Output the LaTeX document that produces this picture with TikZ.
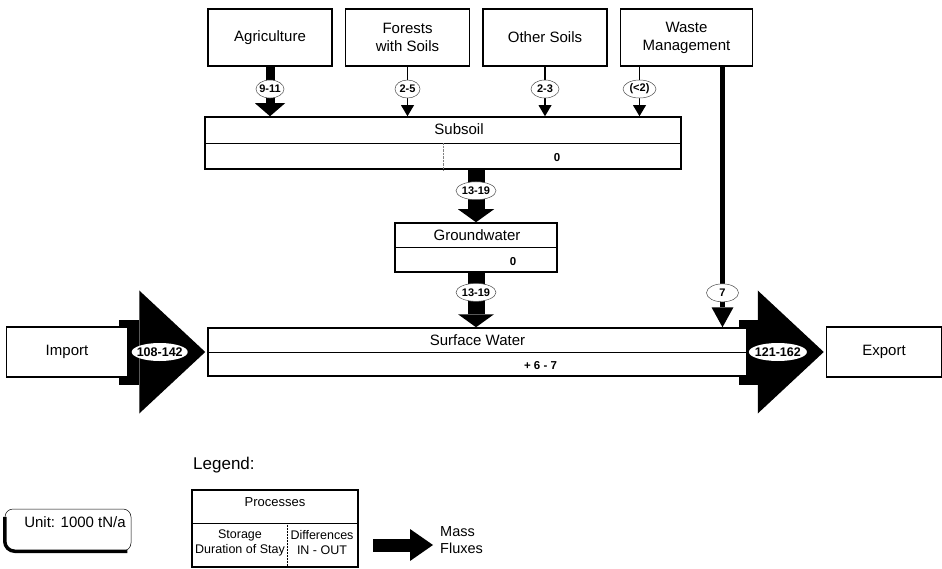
\documentclass[tikz,border=0pt]{standalone}
\usepackage{fontspec}
\setmainfont{Liberation Sans}
\usetikzlibrary{arrows.meta,positioning,calc,shapes.geometric,backgrounds}

\begin{document}
\begin{tikzpicture}[
 x=1pt,y=-1pt,
 proc/.style={draw,fill=white,line width=1.5pt,minimum width=124pt,minimum height=57pt,align=center,inner sep=2pt,font=\fontsize{15}{18}\selectfont},
 store/.style={draw,fill=white,line width=1.5pt,inner sep=0pt},
 boxtxt/.style={inner sep=0pt,font=\fontsize{15}{18}\selectfont},
 baltxt/.style={inner sep=0pt,font=\bfseries\fontsize{11.5}{13}\selectfont},
 flab/.style={ellipse,draw=black!70,line width=0.5pt,fill=white,inner xsep=-12pt,inner ysep=0pt,minimum width=28pt,minimum height=18pt,font=\bfseries\fontsize{11}{12}\selectfont},
 biglab/.style={flab,draw=none,minimum height=18pt,font=\bfseries\fontsize{12.5}{13}\selectfont},
 thinflux/.style={line width=1.5pt,-{Triangle[length=11pt,width=13pt,line width=0pt]}},
 agflux/.style={line width=9pt,-{Triangle[length=13pt,width=30pt,line width=0pt]}},
 gwflux/.style={line width=17pt,-{Triangle[length=13pt,width=36pt,line width=0pt]}},
 wasteflux/.style={line width=5pt,-{Triangle[length=20pt,width=22pt,line width=0pt]}},
 bigflux/.style={line width=65pt,-{Triangle[length=66pt,width=123pt,line width=0pt]}}
]
\useasboundingbox (0,0) rectangle (942,569);

% sources on top
\node[proc] (agri) at (270,37.5) {Agriculture};
\node[proc,right=12pt of agri] (forest) {Forests\\with Soils};
\node[proc,right=12pt of forest] (othsoil) {Other Soils};
\node[proc,right=12pt of othsoil,minimum width=132pt] (waste) {Waste\\Management};

% subsoil
\node[store,minimum width=476pt,minimum height=52pt] (subsoil) at (443,143) {};
\draw[line width=0.8pt] (subsoil.west) -- (subsoil.east);
\draw[densely dotted,black!50,line width=0.4pt] (subsoil.center) -- (subsoil.south);
\node[boxtxt] (subsoil-t) at ($(subsoil.north)+(16,13)$) {Subsoil};
\node[baltxt] (subsoil-b) at ($(subsoil.south)+(114,-12)$) {0};

% groundwater
\node[store,minimum width=162pt,minimum height=49pt] (ground) at (476,247.5) {};
\draw[line width=0.8pt] (ground.west) -- (ground.east);
\node[boxtxt] (ground-t) at ($(ground.north)+(1,13)$) {Groundwater};
\node[baltxt] (ground-b) at ($(ground.south)+(37,-11)$) {0};

% surface water, import, export
\node[store,minimum width=539pt,minimum height=48pt] (surface) at (477.5,352) {};
\draw[line width=0.8pt] (surface.west) -- (surface.east);
\node[boxtxt] (surface-t) at ($(surface.north)+(0,13)$) {Surface Water};
\node[baltxt] (surface-b) at ($(surface.south)+(63,-11)$) {+ 6 - 7};
\node[proc,minimum width=121pt,minimum height=50pt,left=79pt of surface] (import) {Import};
\node[proc,minimum width=115pt,minimum height=50pt,right=78pt of surface] (export) {Export};

\begin{pgfonlayer}{background}
\draw[bigflux,shorten >=2pt] ($(import.east)+(-9,0)$) -- node[biglab,pos=0.46,minimum width=56pt] (import-f) {108-142} (surface.west);
\draw[bigflux,shorten >=2pt] ($(surface.east)+(-9,0)$) -- node[biglab,pos=0.45,minimum width=58pt] (export-f) {121-162} (export.west);
\end{pgfonlayer}

% fluxes into subsoil
\draw[agflux] (agri.south) -- node[flab,pos=0.45] (agri-f) {9-11} (agri.south |- subsoil.north);
\draw[thinflux] (forest.south) -- node[flab,pos=0.45,minimum width=25pt] (forest-f) {2-5} (forest.south |- subsoil.north);
\draw[thinflux] (othsoil.south) -- node[flab,pos=0.45] (othsoil-f) {2-3} (othsoil.south |- subsoil.north);
\coordinate (waste-l) at ($(waste.south)+(-47,0)$);
\coordinate (waste-r) at ($(waste.south)+(36,0)$);
\draw[thinflux] (waste-l) -- node[flab,pos=0.45,minimum width=33pt] (waste-f) {(<2)} (waste-l |- subsoil.north);
\draw[wasteflux] (waste-r) -- node[flab,pos=0.868,minimum width=32pt] (waste-s) {7} (waste-r |- surface.north);

% leaching
\draw[gwflux] (ground.north |- subsoil.south) -- node[flab,pos=0.4,minimum width=40pt] (subsoil-f) {13-19} (ground.north);
\draw[gwflux] (ground.south) -- node[flab,pos=0.36,minimum width=40pt] (ground-f) {13-19} (ground.south |- surface.north);

% legend
\node[anchor=west,inner sep=0pt,font=\fontsize{17}{20}\selectfont] (legend) at (193,465) {Legend:};
\node[store,line width=1.2pt,minimum width=166pt,minimum height=77pt] (leg-proc) at (275,528.5) {};
\coordinate (leg-dl) at ($(leg-proc.north west)!0.43!(leg-proc.south west)$);
\coordinate (leg-dr) at ($(leg-proc.north east)!0.43!(leg-proc.south east)$);
\coordinate (leg-dm) at ($(leg-dl)!0.572!(leg-dr)$);
\draw[line width=0.6pt] (leg-dl) -- (leg-dr);
\draw[densely dotted,line width=0.5pt] (leg-dm) -- (leg-dm |- leg-proc.south);
\node[inner sep=0pt,font=\fontsize{13}{15}\selectfont] (leg-pt) at ($(leg-proc.north)+(0,13)$) {Processes};
\node[inner sep=0pt,align=center,font=\fontsize{12.5}{15}\selectfont] (leg-st) at (240,543) {Storage\\Duration of Stay};
\node[inner sep=0pt,align=center,font=\fontsize{12.5}{15}\selectfont] (leg-df) at (322,543) {Differences\\IN - OUT};
\coordinate (leg-a) at (373,545);
\coordinate (leg-b) at (433,545);
\draw[line width=13pt,-{Triangle[length=23pt,width=32pt,line width=0pt]}] (leg-a) -- (leg-b);
\node[anchor=west,inner sep=0pt,align=left,font=\fontsize{14.5}{17}\selectfont] (leg-mf) at (440,540) {Mass\\Fluxes};

% unit
\node[draw,line width=0.5pt,rounded corners=8pt,minimum width=126pt,minimum height=42pt] (unit) at (68,530) {};
\draw[line width=3.5pt,rounded corners=10pt] ($(unit.north west)+(0,8)$) -- (unit.south west) -- ($(unit.south east)+(-4,0)$);
\node[inner sep=0pt,font=\fontsize{15}{18}\selectfont] (unit-t) at (75,522) {Unit: 1000 tN/a};
\end{tikzpicture}
\end{document}
